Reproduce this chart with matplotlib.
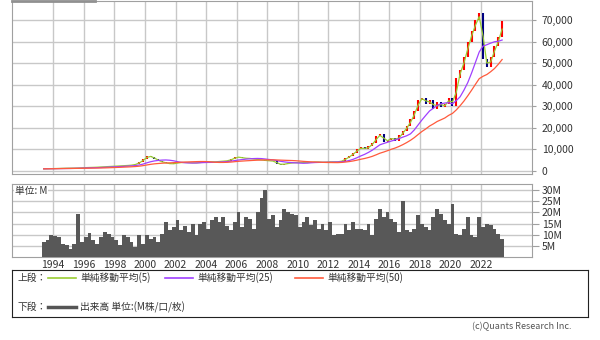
import matplotlib
matplotlib.use('Agg')
import matplotlib.pyplot as plt
import numpy as np
import pandas as pd
from matplotlib.lines import Line2D

plt.rcParams['font.family'] = ['Noto Sans CJK JP', 'DejaVu Sans']

# Cierre trimestral, desde 1993 T2 hasta 2023 T2
cierre = [1000, 1050, 1100,
          1150, 1200, 1250, 1300,
          1300, 1350, 1400, 1500,
          1600, 1650, 1700, 1800,
          1900, 2000, 2100, 2200,
          2300, 2400, 2500, 2600,
          2800, 3200, 4200, 5500,
          7000, 6500, 5500, 4500,
          4000, 3600, 3200, 3500,
          3800, 4000, 3900, 3800,
          3700, 3800, 4000, 4200,
          4300, 4200, 4300, 4500,
          4600, 4800, 5500, 6300,
          6500, 5800, 6000, 5600,
          5500, 5200, 5000, 4800,
          4700, 4500, 3200, 3000,
          3300, 3600, 3800, 3900,
          4000, 3800, 3900, 4100,
          4200, 4100, 4000, 4200,
          4300, 4200, 4300, 4800,
          6000, 7000, 8500, 10000,
          11000, 10000, 11500, 13000,
          16000, 17000, 13500, 14500,
          15500, 14000, 16500, 18500,
          21000, 24000, 28000, 33000,
          34000, 31000, 33000, 28500,
          32000, 29500, 31000, 34000,
          30000, 43000, 47000, 53000,
          60000, 65000, 70000, 73000,
          52000, 48000, 53000, 58000,
          62000, 69500]

# Volumen trimestral (millones)
volumen = [6.7, 7.4, 9.7,
           9.5, 9.0, 6.0, 5.2,
           3.8, 6.0, 19.4, 6.7,
           9.0, 10.9, 7.4, 6.0,
           9.0, 11.4, 10.3, 9.0,
           7.4, 5.2, 9.7, 9.0,
           6.7, 4.5, 9.7, 6.0,
           9.7, 8.2, 9.0, 6.7,
           10.3, 15.7, 11.9, 13.4,
           16.4, 11.9, 14.1, 11.4,
           14.9, 9.7, 14.9, 15.7,
           12.7, 16.4, 17.9, 15.7,
           17.9, 14.1, 11.9, 15.7,
           20.2, 13.4, 17.9, 17.1,
           12.7, 20.2, 26.5, 30.0,
           17.1, 18.6, 13.4, 16.4,
           21.7, 20.2, 19.4, 18.6,
           13.4, 15.7, 17.9, 14.2,
           16.4, 12.7, 14.9, 11.9,
           15.7, 9.7, 10.3, 10.5,
           14.9, 11.9, 15.7, 12.7,
           12.7, 11.9, 14.9, 9.7,
           17.1, 21.7, 17.9, 20.2,
           17.1, 15.7, 11.4, 25.0,
           11.9, 11.4, 12.7, 18.6,
           14.9, 13.4, 11.9, 17.9,
           21.7, 19.4, 16.4, 14.9,
           23.6, 10.3, 9.7, 12.7,
           17.9, 9.7, 9.0, 17.9,
           13.4, 14.9, 14.2, 12.7,
           10.5, 7.9]

anios = list(range(1994, 2023, 2))
ventanasMA = [5, 25, 50]  # en meses
coloresMA = ['#9acd32', '#a040ff', '#ff5a3c']
etiquetasMA = ['単純移動平均(5)', '単純移動平均(25)', '単純移動平均(50)']

T = 1993.375 + 0.25 * np.arange(len(cierre))
serie = pd.Series(cierre, dtype=float)
apertura = serie.shift(1).fillna(serie.iloc[0])

colorGrilla = '#c8c8c8'
colorBorde = '#a0a0a0'
colorTexto = '#333333'

fig = plt.figure(figsize=(6, 3.4), dpi=100)

# Panel superior: precio
ax1 = fig.add_axes([12/600, 1 - 174/340, 520/600, 173.5/340])
colores = ['#ff0000' if c >= o else '#000080' for o, c in zip(apertura, serie)]
ax1.vlines(T, apertura, serie, colors=colores, linewidth=1.5, zorder=3)
for w, col in zip(ventanasMA, coloresMA):
    ma = serie.rolling(max(1, round(w / 3)), min_periods=1).mean()
    ax1.plot(T, ma, color=col, linewidth=0.9, zorder=4)
ax1.set_xlim(1991.3, 2025.33)
ax1.set_ylim(-1400, 79000)
ax1.set_xticks(anios)
ax1.set_yticks(range(0, 70001, 10000))
ax1.yaxis.tick_right()
ax1.yaxis.set_major_formatter(lambda v, p: f'{int(v):,}')
ax1.tick_params(axis='x', length=0, labelbottom=False)
ax1.tick_params(axis='y', length=3, pad=4, labelsize=7.5, colors=colorBorde, labelcolor=colorTexto)
ax1.grid(True, color=colorGrilla, linewidth=1)
ax1.set_axisbelow(True)
for s in ax1.spines.values():
    s.set_color(colorBorde)

# Panel inferior: volumen
ax2 = fig.add_axes([12/600, 1 - 257/340, 520/600, 73/340])
ax2.bar(T, volumen, width=0.25, color='#585858', linewidth=0, zorder=3)
ax2.set_xlim(1991.3, 2025.33)
ax2.set_ylim(0, 32.7)
ax2.set_xticks(anios)
ax2.set_yticks(range(5, 31, 5))
ax2.yaxis.tick_right()
ax2.yaxis.set_major_formatter(lambda v, p: f'{int(v)}M')
ax2.tick_params(axis='x', length=0, pad=2, labelsize=7.5, labelcolor=colorTexto)
ax2.tick_params(axis='y', length=5, pad=2, labelsize=7.5, colors=colorBorde, labelcolor=colorTexto)
ax2.grid(True, color=colorGrilla, linewidth=1)
ax2.set_axisbelow(True)
for s in ax2.spines.values():
    s.set_color(colorBorde)
ax2.text(0.006, 0.9, '単位: M', transform=ax2.transAxes, fontsize=7, color=colorTexto,
         va='center', ha='left', bbox=dict(facecolor='white', edgecolor='none', pad=0.5))

# barra gris arriba a la izquierda
fig.add_artist(Line2D([12/600, 95/600], [0.997, 0.997], color='#909090', linewidth=2))

# Leyenda
axL = fig.add_axes([12/600, 1 - 316.5/340, 576/600, 46.5/340])
axL.set_xticks([])
axL.set_yticks([])
for s in axL.spines.values():
    s.set_color('#222222')

def px(x, y):
    return x / 600, 1 - y / 340

yA, yB = 277.7, 307.3
fig.text(*px(18, yA), '上段：', fontsize=7, color=colorTexto, va='center')
inicios = [48, 165, 295]
for x0, col, et in zip(inicios, coloresMA, etiquetasMA):
    xa, ya = px(x0, yA)
    xb, _ = px(x0 + 28, yA)
    fig.add_artist(Line2D([xa, xb], [ya, ya], color=col, linewidth=1.2))
    fig.text(*px(x0 + 32, yA), et, fontsize=7, color=colorTexto, va='center')

fig.text(*px(18, yB), '下段：', fontsize=7, color=colorTexto, va='center')
xa, ya = px(48, yB)
xb, _ = px(76, yB)
fig.add_artist(Line2D([xa, xb], [ya, ya], color='#555555', linewidth=2.5))
fig.text(*px(80, yB), '出来高 単位:(M株/口/枚)', fontsize=7, color=colorTexto, va='center')

fig.text(*px(572, 326.7), '(c)Quants Research Inc.', fontsize=6.5, color='#555555',
         va='center', ha='right')

plt.savefig('out.png', dpi=100)
